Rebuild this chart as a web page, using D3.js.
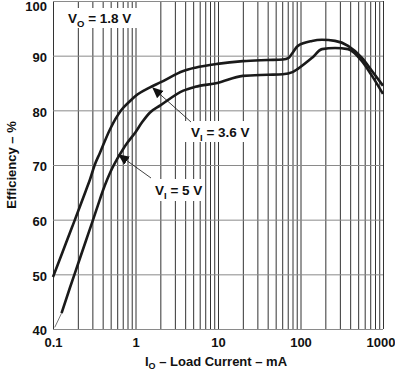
<!DOCTYPE html>
<html>
<head>
<meta charset="utf-8">
<script src="https://cdn.jsdelivr.net/npm/d3@7"></script>
<style>
  body { margin: 0; background: #fff; }
  svg { display: block; font-family: "Liberation Sans", Arial, sans-serif; font-weight: bold; }
</style>
</head>
<body>
<div id="vis"></div>
<script>
const FRAME_WIDTH = 395;
const FRAME_HEIGHT = 371;
const MARGINS = {left: 53, right: 12, top: 1, bottom: 42};
const VIS_WIDTH = FRAME_WIDTH - MARGINS.left - MARGINS.right;
const VIS_HEIGHT = FRAME_HEIGHT - MARGINS.top - MARGINS.bottom;

// load current (mA) and efficiency (%)
const current36 = [0.1, 0.13, 0.17, 0.2, 0.25, 0.28, 0.32, 0.37, 0.49, 0.67, 0.86, 1.0, 1.5, 2, 3.8, 5.3, 9.8, 20, 40, 61, 72, 79, 93, 138, 182, 262, 377, 556, 736, 1000];
const eff36     = [49.5, 54.0, 58.6, 61.4, 65.3, 67.3, 70, 72.2, 76.5, 80, 81.7, 82.6, 84.2, 85.1, 87.2, 87.8, 88.5, 89, 89.2, 89.3, 89.6, 90.4, 91.8, 92.7, 92.9, 92.7, 91.8, 89.6, 87.2, 84.5];
const current5  = [0.127, 0.16, 0.2, 0.25, 0.3, 0.35, 0.4, 0.45, 0.5, 0.6, 0.7, 0.8, 1.0, 1.2, 1.5, 2, 3.8, 5.3, 9.8, 20, 40, 61, 80, 93, 138, 182, 262, 377, 556, 736, 1000];
const eff5      = [42.9, 47.5, 51.8, 56.1, 59.6, 62.6, 65.2, 67.2, 68.8, 71.1, 72.8, 74.1, 76.0, 77.8, 79.6, 80.9, 83.6, 84.3, 85.0, 86.3, 86.5, 86.6, 87.0, 87.6, 89.6, 91.2, 91.4, 91.2, 89, 86.3, 83];
// thin lead-in of the 5 V curve below its first thick point
const lead5Current = [0.105, 0.127];
const lead5Eff     = [40.3, 42.9];

const X_TICKS = [0.1, 1, 10, 100, 1000];
const X_LABELS = ["0.1", "1", "10", "100", "1000"];
const Y_TICKS = [40, 50, 60, 70, 80, 90, 100];

const FRAME = d3.select("#vis")
  .append("svg")
    .attr("width", FRAME_WIDTH)
    .attr("height", FRAME_HEIGHT);

const X_SCALE = d3.scaleLog().domain([0.1, 1000]).range([0, VIS_WIDTH]);
const Y_SCALE = d3.scaleLinear().domain([40, 100]).range([VIS_HEIGHT, 0]);

const G = FRAME.append("g")
    .attr("transform", "translate(" + MARGINS.left + "," + MARGINS.top + ")");

// minor vertical grid, every 1..9 per decade
const minor = [];
[0.1, 1, 10, 100].forEach(d => { for (let k = 1; k < 10; k++) minor.push(d * k); });
minor.push(1000);

G.append("g")
    .attr("transform", "translate(0," + VIS_HEIGHT + ")")
    .call(d3.axisBottom(X_SCALE).tickValues(minor).tickSize(-VIS_HEIGHT).tickFormat(""))
    .call(g => g.select(".domain").remove())
    .call(g => g.selectAll("line").attr("stroke", "#333").attr("stroke-width", 1));

G.append("g")
    .call(d3.axisLeft(Y_SCALE).tickValues(Y_TICKS).tickSize(-VIS_WIDTH).tickFormat(""))
    .call(g => g.select(".domain").remove())
    .call(g => g.selectAll("line").attr("stroke", "#8a8a8a").attr("stroke-width", 1));

// tick labels
G.append("g")
    .attr("transform", "translate(0," + VIS_HEIGHT + ")")
    .call(d3.axisBottom(X_SCALE).tickValues(X_TICKS).tickSize(0).tickPadding(9)
      .tickFormat((d, i) => X_LABELS[i]))
    .call(g => g.select(".domain").remove())
    .call(g => g.selectAll("text").attr("font-size", "13px").attr("font-weight", "bold")
      .attr("font-family", "Liberation Sans, Arial, sans-serif").attr("fill", "#111"))
    .call(g => g.selectAll("text").filter(d => d === 1000).attr("text-anchor", "end").attr("x", 12));

G.append("g")
    .call(d3.axisLeft(Y_SCALE).tickValues(Y_TICKS).tickSize(0).tickPadding(6))
    .call(g => g.select(".domain").remove())
    .call(g => g.selectAll("text").attr("font-size", "13px").attr("font-weight", "bold")
      .attr("font-family", "Liberation Sans, Arial, sans-serif").attr("fill", "#111")
      .attr("dy", "0.45em"))
    .call(g => g.selectAll("text").filter(d => d === 100).attr("dy", "0.75em"));

// curves
const line = d3.line()
  .x(d => X_SCALE(d[0]))
  .y(d => Y_SCALE(d[1]))
  .curve(d3.curveMonotoneX);

G.append("path")
    .datum(current36.map((c, i) => [c, eff36[i]]))
    .attr("d", line)
    .attr("fill", "none")
    .attr("stroke", "#1a1a1a")
    .attr("stroke-width", 2.6);

G.append("path")
    .datum(current5.map((c, i) => [c, eff5[i]]))
    .attr("d", line)
    .attr("fill", "none")
    .attr("stroke", "#1a1a1a")
    .attr("stroke-width", 2.6);

G.append("path")
    .datum(lead5Current.map((c, i) => [c, lead5Eff[i]]))
    .attr("d", line)
    .attr("fill", "none")
    .attr("stroke", "#555")
    .attr("stroke-width", 0.8);

// labels with white boxes (frame pixel positions)
function label(x, y, main, sub, rest, bx, by, bw, bh) {
  FRAME.append("rect")
    .attr("x", bx).attr("y", by).attr("width", bw).attr("height", bh)
    .attr("fill", "#fff");
  const t = FRAME.append("text")
    .attr("x", x).attr("y", y)
    .attr("font-size", "13.5px").attr("fill", "#111");
  t.append("tspan").text(main);
  t.append("tspan").attr("font-size", "9.5px").attr("dy", 4).text(sub);
  t.append("tspan").attr("dy", -4).text(rest);
}
label(68, 23, "V", "O", " = 1.8 V", 62, 8, 78, 20);
label(191, 137, "V", "I", " = 3.6 V", 185, 121, 64, 21);
label(155, 195, "V", "I", " = 5 V", 150, 179, 54, 22);

// arrows
FRAME.append("defs").append("marker")
    .attr("id", "arr").attr("viewBox", "0 0 10 10")
    .attr("refX", 9).attr("refY", 5)
    .attr("markerWidth", 11).attr("markerHeight", 11)
    .attr("markerUnits", "userSpaceOnUse")
    .attr("orient", "auto")
  .append("path").attr("d", "M0,0.5 L10,5 L0,9.5 Z").attr("fill", "#111");

function arrow(x1, y1, x2, y2) {
  FRAME.append("line")
    .attr("x1", x1).attr("y1", y1)
    .attr("x2", x2).attr("y2", y2)
    .attr("stroke", "#111").attr("stroke-width", 0.8)
    .attr("marker-end", "url(#arr)");
}
arrow(191, 122, 153, 88);
arrow(151, 178, 119, 155);

// axis titles
const xt = FRAME.append("text")
    .attr("x", 216).attr("y", 366)
    .attr("text-anchor", "middle").attr("font-size", "13px").attr("fill", "#111");
xt.append("tspan").text("I");
xt.append("tspan").attr("font-size", "9px").attr("dy", 3).text("O");
xt.append("tspan").attr("dy", -3).text(" \u2013 Load Current \u2013 mA");

FRAME.append("text")
    .attr("transform", "translate(16," + (MARGINS.top + VIS_HEIGHT / 2) + ") rotate(-90)")
    .attr("text-anchor", "middle").attr("font-size", "13px").attr("fill", "#111")
    .text("Efficiency \u2013 %");
</script>
</body>
</html>
